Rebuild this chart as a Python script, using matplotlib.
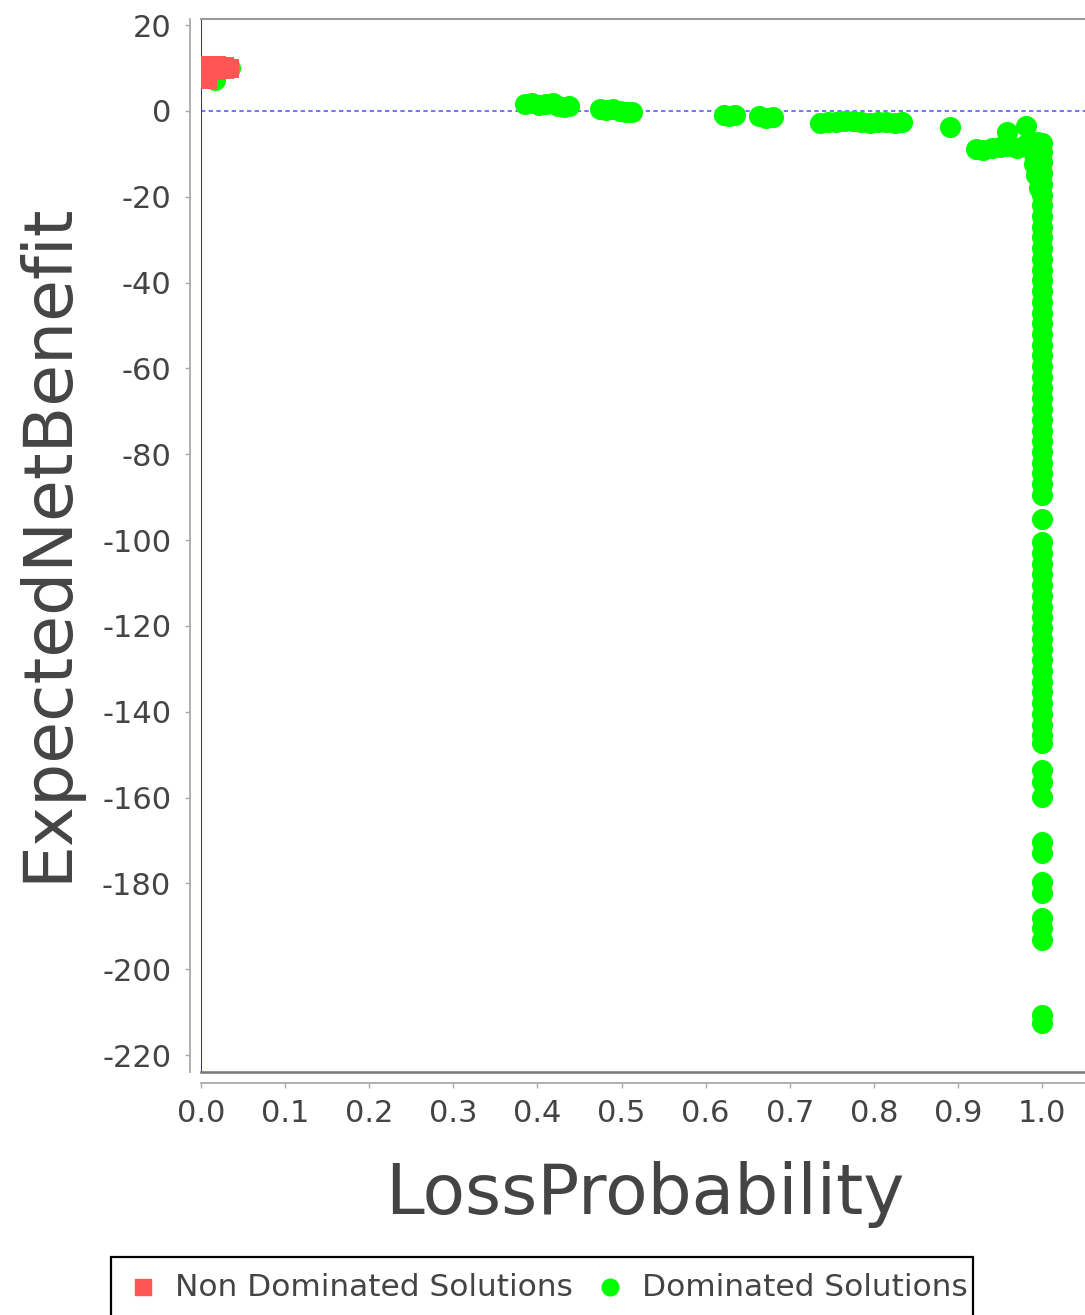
import matplotlib
matplotlib.use("Agg")
import matplotlib.pyplot as plt
from matplotlib.patches import Rectangle
from matplotlib.lines import Line2D

plt.rcParams['font.family'] = ['DejaVu Sans']
plt.rcParams['axes.unicode_minus'] = False

# ---- data ----
# non dominated (red squares)
nd_x = [0.010, 0.020, 0.030, 0.036, 0.010, 0.020, 0.030, 0.036, 0.010]
nd_y = [10.8, 10.8, 10.6, 10.2, 9.0, 9.1, 9.3, 9.6, 7.0]

# dominated (green dots) - the row along the top
dom_top_x = [0.017, 0.034,
             0.385, 0.393, 0.402, 0.410, 0.418, 0.425, 0.432, 0.438,
             0.474, 0.482, 0.490, 0.498, 0.505, 0.512,
             0.622, 0.628, 0.635,
             0.663, 0.672, 0.680,
             0.736, 0.745, 0.755, 0.765, 0.775, 0.785, 0.795, 0.805, 0.815, 0.825, 0.833,
             0.890,
             0.922, 0.930, 0.940, 0.950, 0.958, 0.960, 0.970, 0.980, 0.981, 0.990, 0.995,
             0.990, 0.990, 0.993, 0.996]
dom_top_y = [7.2, 9.9,
             1.6, 1.8, 1.3, 1.5, 1.8, 1.2, 1.0, 1.1,
             0.5, 0.2, 0.4, 0.0, -0.3, -0.2,
             -1.0, -1.3, -0.9,
             -1.3, -1.6, -1.4,
             -2.8, -2.5, -2.7, -2.4, -2.3, -2.6, -2.8, -2.5, -2.7, -2.9, -2.6,
             -3.8,
             -8.8, -9.2, -8.7, -8.5, -5.0, -8.3, -8.6, -8.0, -3.6, -7.5, -7.3,
             -10.0, -12.5, -15.0, -18.0]

# dominated - the column at LossProbability = 1.0
dom_col_y = [-7.5, -9.5, -12, -14.5, -17, -19.5, -22, -24.5, -27, -29.5, -32,
             -34.5, -37, -39.5, -42, -44.5, -47, -49.5, -52, -54.5, -57, -59.5,
             -62, -64.5, -67, -69.5, -72, -74.5, -77, -79.5, -82, -84.5, -87,
             -89.5, -95.1,
             -100.5, -103, -105.5, -108, -110.5, -113, -115.5, -118, -120.5,
             -123, -125.5, -128, -130.5, -133, -135.5, -138, -140.5, -143,
             -145.5, -147.3,
             -153.6, -156.5, -159.9, -170.4, -172.9, -179.7, -182.2,
             -188.1, -190.5, -193.2, -210.7, -212.5]
dom_col_x = [1.0] * len(dom_col_y)

dom_x = dom_top_x + dom_col_x
dom_y = dom_top_y + dom_col_y

x_ticks = [0.0, 0.1, 0.2, 0.3, 0.4, 0.5, 0.6, 0.7, 0.8, 0.9, 1.0]
y_ticks = [20, 0, -20, -40, -60, -80, -100, -120, -140, -160, -180, -200, -220]

RED = '#ff5555'
GREEN = '#00ff00'
TXT = '#444444'
AXC = '#aaaaaa'

W, H = 1085, 1315
fig = plt.figure(figsize=(W / 100, H / 100), dpi=100)
ax = fig.add_axes([201 / W, 1 - 1072 / H, (W - 201) / W, (1072 - 19) / H])

ax.scatter(dom_x, dom_y, s=230, marker='o', color=GREEN, linewidths=0, zorder=3)
ax.scatter(nd_x, nd_y, s=140, marker='s', color=RED, linewidths=0, zorder=4,
           clip_on=False)

ax.axhline(0, color='#5a5aff', lw=1.2, dashes=(2.6, 2.0), zorder=2)
ax.axvline(0, color='#3a3a7a', lw=1.5, zorder=2)

ax.set_xlim(0, 1.0511)
ax.set_ylim(-223.96, 21.4)
ax.set_xticks(x_ticks)
ax.set_xticklabels(['%.1f' % v for v in x_ticks])
ax.set_yticks(y_ticks)
ax.set_yticklabels([str(v) for v in y_ticks])

# axis lines offset from the data area, like the original
for side in ['left', 'bottom']:
    ax.spines[side].set_position(('outward', 7.9))
    ax.spines[side].set_color(AXC)
    ax.spines[side].set_linewidth(1.3)
ax.spines['right'].set_visible(False)
ax.spines['top'].set_visible(False)

# plot area outline
ax.add_line(Line2D([0, 1], [1, 1], transform=ax.transAxes, color='#999999',
                   lw=1.5, clip_on=False))
ax.add_line(Line2D([0, 1], [0, 0], transform=ax.transAxes, color='#777777',
                   lw=1.8, clip_on=False))

ax.tick_params(axis='both', which='both', direction='out', length=3.6,
               width=1, color=AXC, labelcolor=TXT, labelsize=22)
ax.tick_params(axis='y', pad=10)
ax.tick_params(axis='x', pad=8)

fig.text(645 / W, 1 - 1214 / H, 'LossProbability', fontsize=50, color=TXT,
         ha='center', va='baseline')
fig.text(66 / W, 1 - 542 / H, 'ExpectedNetBenefit', fontsize=49, color=TXT,
         ha='center', va='baseline', rotation=90, rotation_mode='anchor')

# legend box (bottom edge runs off the picture)
fig.patches.append(Rectangle((111 / W, 1 - 1330 / H), (973 - 111) / W, (1330 - 1257) / H,
                             transform=fig.transFigure, fill=False,
                             edgecolor='black', lw=1.6))
fig.add_artist(Line2D([143 / W], [1 - 1287 / H], marker='s', markersize=11,
                      color=RED, lw=0, transform=fig.transFigure))
fig.text(175 / W, 1 - 1288 / H, 'Non Dominated Solutions', fontsize=22.5,
         color=TXT, ha='left', va='center')
fig.add_artist(Line2D([610 / W], [1 - 1287 / H], marker='o', markersize=12,
                      color=GREEN, lw=0, transform=fig.transFigure))
fig.text(642 / W, 1 - 1288 / H, 'Dominated Solutions', fontsize=22.5,
         color=TXT, ha='left', va='center')

fig.savefig('out.png', dpi=100)
